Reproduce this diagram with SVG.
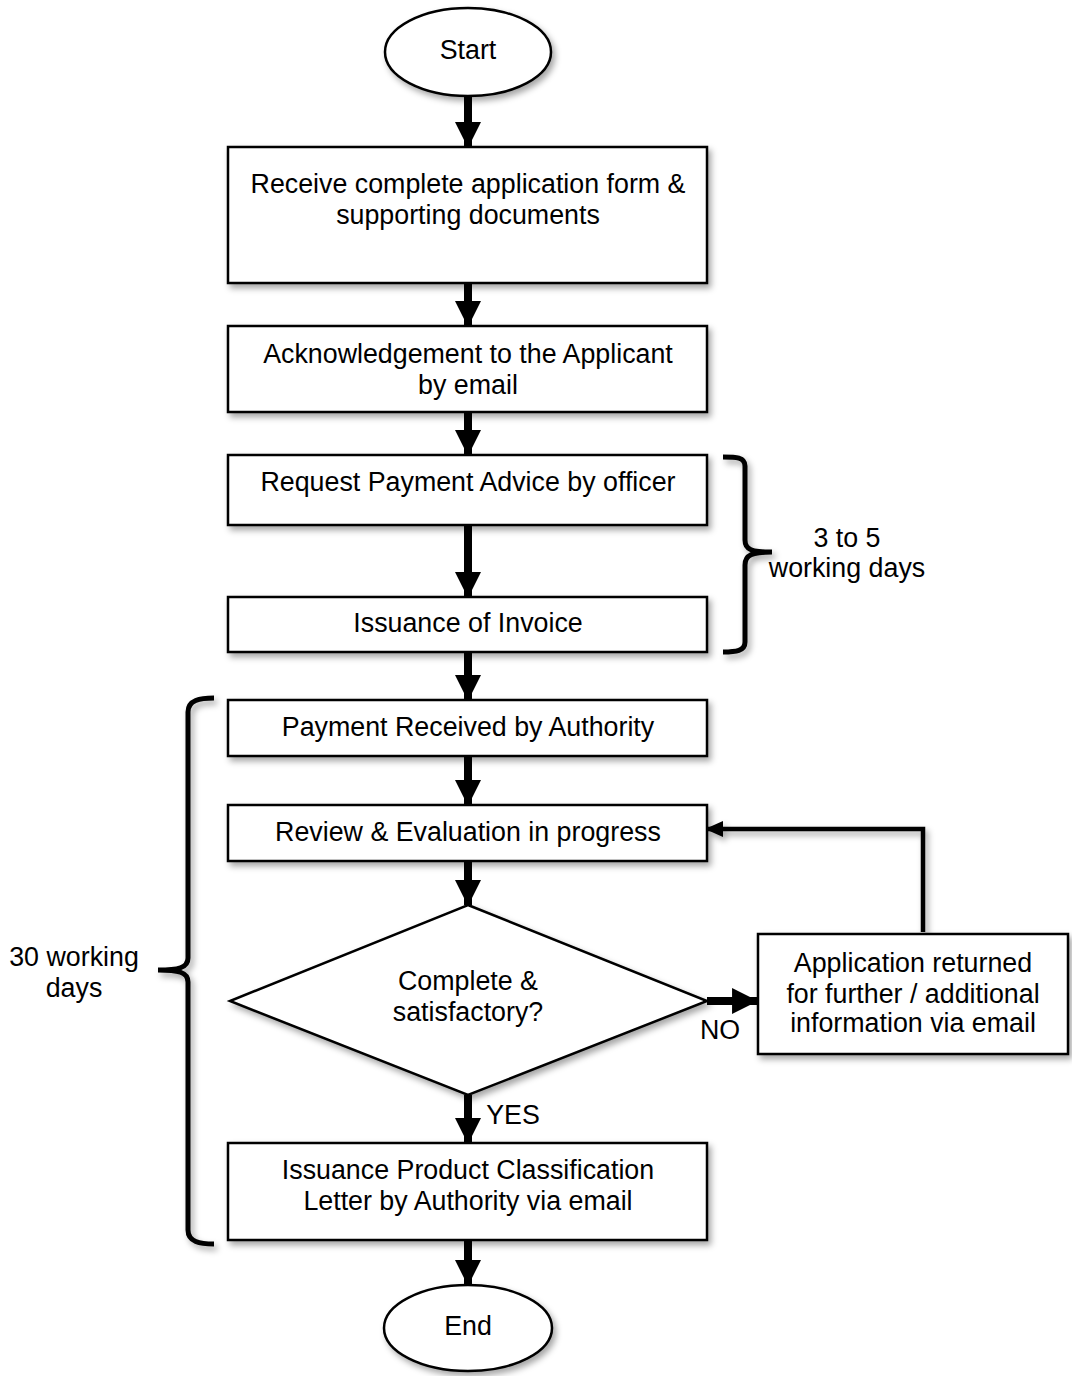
<svg xmlns="http://www.w3.org/2000/svg" width="1072" height="1376" viewBox="0 0 1072 1376">
<style>
.n{fill:#fff;stroke:#000;stroke-width:2.5}
.t{font-family:"Liberation Sans",Arial,sans-serif;font-size:26.8px;fill:#000;text-anchor:middle}
.c{stroke:#000;fill:none}
</style>
<defs>
<filter id="sh" x="-10%" y="-10%" width="130%" height="140%">
<feDropShadow dx="3" dy="4" stdDeviation="3" flood-color="#000" flood-opacity="0.35"/>
</filter>
<marker id="ah" markerUnits="userSpaceOnUse" markerWidth="26" markerHeight="26" refX="24" refY="12.5" orient="auto" viewBox="0 0 25 25">
<path d="M0,0 L25,12.5 L0,25 Z" fill="#000"/>
</marker>
<marker id="as" markerUnits="userSpaceOnUse" markerWidth="18" markerHeight="16" refX="16" refY="8" orient="auto" viewBox="0 0 18 16">
<path d="M0,0 L18,8 L0,16 Z" fill="#000"/>
</marker>
</defs>
<rect width="1072" height="1376" fill="#fff"/>

<g id="connectors">
<path class="c" stroke-width="8" marker-end="url(#ah)" d="M468,97 V147"/>
<path class="c" stroke-width="8" marker-end="url(#ah)" d="M468,283 V326"/>
<path class="c" stroke-width="8" marker-end="url(#ah)" d="M468,412 V455"/>
<path class="c" stroke-width="8" marker-end="url(#ah)" d="M468,525 V597"/>
<path class="c" stroke-width="8" marker-end="url(#ah)" d="M468,652 V700"/>
<path class="c" stroke-width="8" marker-end="url(#ah)" d="M468,756 V805"/>
<path class="c" stroke-width="8" marker-end="url(#ah)" d="M468,861 V905"/>
<path class="c" stroke-width="8" marker-end="url(#ah)" d="M468,1095 V1143"/>
<path class="c" stroke-width="8" marker-end="url(#ah)" d="M468,1240 V1285"/>
<path class="c" stroke-width="8" marker-end="url(#ah)" d="M707,1001 H757"/>
<path class="c" stroke-width="4.5" marker-end="url(#as)" d="M923,932 V829 H707" filter="url(#sh)"/>
<text class="t" x="720" y="1039">NO</text>
<text class="t" x="513" y="1124">YES</text>
</g>

<g id="start">
<ellipse class="n" cx="468" cy="52" rx="83" ry="44" filter="url(#sh)"/>
<text class="t" x="468" y="59">Start</text>
</g>
<g id="receive">
<rect class="n" x="228" y="147" width="479" height="136" filter="url(#sh)"/>
<text class="t" x="468" y="193">Receive complete application form &amp;</text>
<text class="t" x="468" y="224">supporting documents</text>
</g>
<g id="ack">
<rect class="n" x="228" y="326" width="479" height="86" filter="url(#sh)"/>
<text class="t" x="468" y="363">Acknowledgement to the Applicant</text>
<text class="t" x="468" y="394">by email</text>
</g>
<g id="request">
<rect class="n" x="228" y="455" width="479" height="70" filter="url(#sh)"/>
<text class="t" x="468" y="491">Request Payment Advice by officer</text>
</g>
<g id="invoice">
<rect class="n" x="228" y="597" width="479" height="55" filter="url(#sh)"/>
<text class="t" x="468" y="632">Issuance of Invoice</text>
</g>
<g id="payment">
<rect class="n" x="228" y="700" width="479" height="56" filter="url(#sh)"/>
<text class="t" x="468" y="736">Payment Received by Authority</text>
</g>
<g id="review">
<rect class="n" x="228" y="805" width="479" height="56" filter="url(#sh)"/>
<text class="t" x="468" y="841">Review &amp; Evaluation in progress</text>
</g>
<g id="decision">
<polygon class="n" points="468,905 707,1001 468,1095 230,1001" filter="url(#sh)"/>
<text class="t" x="468" y="990">Complete &amp;</text>
<text class="t" x="468" y="1021">satisfactory?</text>
</g>
<g id="returned">
<rect class="n" x="758" y="934" width="310" height="120" stroke-width="5" filter="url(#sh)"/>
<text class="t" x="913" y="972">Application returned</text>
<text class="t" x="913" y="1003">for further / additional</text>
<text class="t" x="913" y="1032">information via email</text>
</g>
<g id="issuance">
<rect class="n" x="228" y="1143" width="479" height="97" filter="url(#sh)"/>
<text class="t" x="468" y="1179">Issuance Product Classification</text>
<text class="t" x="468" y="1210">Letter by Authority via email</text>
</g>
<g id="end">
<ellipse class="n" cx="468" cy="1328" rx="84" ry="43" filter="url(#sh)"/>
<text class="t" x="468" y="1335">End</text>
</g>

<g id="brace-right">
<path class="c" stroke-width="5" filter="url(#sh)" d="M723,457 C736,457 745,457 745,466 V540 C745,550 752,552 772,552 C752,552 745,555 745,565 V642 C745,651 736,652 723,652"/>
<text class="t" x="847" y="547">3 to 5</text>
<text class="t" x="847" y="577">working days</text>
</g>
<g id="brace-left">
<path class="c" stroke-width="5" filter="url(#sh)" d="M214,698 C200,698 188,700 188,712 V958 C188,968 178,970 158,970 C178,970 188,972 188,982 V1230 C188,1242 200,1244 214,1244"/>
<text class="t" x="74" y="966">30 working</text>
<text class="t" x="74" y="997">days</text>
</g>
</svg>
